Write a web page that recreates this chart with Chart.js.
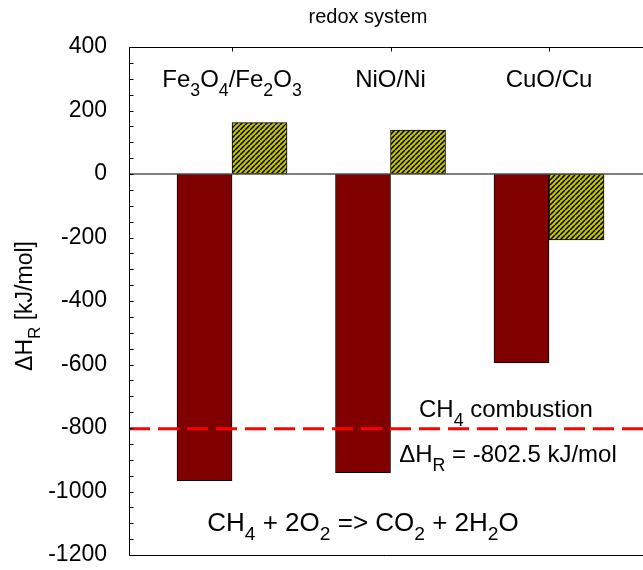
<!DOCTYPE html>
<html>
<head>
<meta charset="utf-8">
<script src="https://cdn.jsdelivr.net/npm/chart.js@4.4.0/dist/chart.umd.min.js"></script>
<style>
  html, body { margin: 0; padding: 0; background: #fff; overflow: hidden; }
  #wrap { width: 643px; height: 570px; }
</style>
</head>
<body>
<div id="wrap"><canvas id="chart" width="643" height="570"></canvas></div>
<script>
// Data. "_X" means X is a subscript.
const categories = ['Fe_3O_4/Fe_2O_3', 'NiO/Ni', 'CuO/Cu'];
const reductionValues = [-966, -941, -595];   // dark red bars
const oxidationValues = [162, 138, -208];     // hatched bars
const yTicks = [400, 200, 0, -200, -400, -600, -800, -1000, -1200];
const combustionValue = -802.5;

const titleText = 'redox system';
const yTitle = 'ΔH_R [kJ/mol]';
const combustionLabel = 'CH_4 combustion';
const combustionValueLabel = 'ΔH_R = -802.5 kJ/mol';
const reactionLabel = 'CH_4 + 2O_2 => CO_2 + 2H_2O';

const FONT = '"Liberation Sans", Arial, sans-serif';

// split "CH_4" into [['CH', false], ['4', true]]
function parseRich(str) {
    const parts = [];
    let buf = '';
    for (let i = 0; i < str.length; i++) {
        if (str[i] === '_' && i + 1 < str.length) {
            if (buf) parts.push([buf, false]);
            buf = '';
            parts.push([str[i + 1], true]);
            i++;
        } else {
            buf += str[i];
        }
    }
    if (buf) parts.push([buf, false]);
    return parts;
}

function drawRich(ctx, str, x, y, size) {
    const parts = parseRich(str);
    const subSize = size * 0.74;
    let total = 0;
    parts.forEach(p => {
        ctx.font = (p[1] ? subSize : size) + 'px ' + FONT;
        total += ctx.measureText(p[0]).width;
    });
    let cx = x - total / 2;
    ctx.textAlign = 'left';
    ctx.textBaseline = 'alphabetic';
    parts.forEach(p => {
        ctx.font = (p[1] ? subSize : size) + 'px ' + FONT;
        ctx.fillText(p[0], cx, p[1] ? y + size * 0.36 : y);
        cx += ctx.measureText(p[0]).width;
    });
}

function makeHatch() {
    const p = 5;
    const c = document.createElement('canvas');
    c.width = p; c.height = p;
    const g = c.getContext('2d');
    g.fillStyle = '#c4c400';
    g.fillRect(0, 0, p, p);
    g.strokeStyle = '#000';
    g.lineWidth = 1.5;
    g.beginPath();
    for (let k = -1; k <= 1; k++) {
        g.moveTo(k * p, p);
        g.lineTo(k * p + p, 0);
    }
    g.stroke();
    return g.createPattern(c, 'repeat');
}

function line(ctx, x1, y1, x2, y2) {
    ctx.beginPath();
    ctx.moveTo(x1, y1);
    ctx.lineTo(x2, y2);
    ctx.stroke();
}

const decorPlugin = {
    id: 'decor',
    afterDatasetsDraw(chart) {
        const ctx = chart.ctx;
        const a = chart.chartArea;
        const x = chart.scales.x;
        const y = chart.scales.y;
        ctx.save();

        // zero line
        const y0 = y.getPixelForValue(0);
        ctx.strokeStyle = '#555';
        ctx.lineWidth = 1.5;
        line(ctx, a.left, y0, a.right, y0);

        // methane combustion line
        const yc = y.getPixelForValue(combustionValue);
        ctx.strokeStyle = '#ff0000';
        ctx.lineWidth = 3;
        ctx.setLineDash([21, 8]);
        line(ctx, a.left, yc, a.right, yc);
        ctx.setLineDash([]);

        // frame (right side is cut off in the original)
        ctx.strokeStyle = '#000';
        ctx.lineWidth = 1;
        const L = Math.round(a.left) + 0.5;
        const T = Math.round(a.top) + 0.5;
        const B = Math.round(a.bottom) + 0.5;
        line(ctx, L, T, L, B);
        line(ctx, L, T, a.right, T);
        line(ctx, L, B, a.right, B);

        // minor ticks on the left axis
        for (let v = -1200; v <= 400; v += 50) {
            const py = Math.round(y.getPixelForValue(v)) + 0.5;
            line(ctx, L, py, L + 4, py);
        }
        // ticks on the top axis at each redox system
        categories.forEach((c, i) => {
            const px = Math.round(x.getPixelForValue(i + 1)) + 0.5;
            line(ctx, px, T, px, T + 4);
        });

        // texts
        ctx.fillStyle = '#000';
        ctx.textAlign = 'center';
        ctx.font = '20px ' + FONT;
        ctx.fillText(titleText, 368, 23);

        categories.forEach((c, i) => {
            drawRich(ctx, c, x.getPixelForValue(i + 1), 87, 24);
        });

        drawRich(ctx, combustionLabel, 506, 417, 24);
        drawRich(ctx, combustionValueLabel, 508, 462, 24);
        drawRich(ctx, reactionLabel, 363, 531, 26);

        ctx.save();
        ctx.translate(32, (a.top + a.bottom) / 2 + 5);
        ctx.rotate(-Math.PI / 2);
        drawRich(ctx, yTitle, 0, 0, 23);
        ctx.restore();

        ctx.restore();
    }
};

const ctx = document.getElementById('chart').getContext('2d');
const hatch = makeHatch();

new Chart(ctx, {
    type: 'bar',
    data: {
        datasets: [{
            label: 'reduction',
            data: categories.map((c, i) => ({ x: i + 1, y: reductionValues[i] })),
            backgroundColor: '#800000',
            borderColor: '#000',
            borderWidth: 1,
            borderSkipped: false,
            barThickness: 55
        }, {
            label: 'oxidation',
            data: categories.map((c, i) => ({ x: i + 1, y: oxidationValues[i] })),
            backgroundColor: hatch,
            borderColor: '#000',
            borderWidth: 1,
            borderSkipped: false,
            barThickness: 55
        }]
    },
    options: {
        responsive: false,
        animation: false,
        layout: { padding: { top: 47, bottom: 15, left: 0, right: 0 } },
        plugins: {
            legend: { display: false },
            tooltip: { enabled: false }
        },
        scales: {
            x: {
                type: 'linear',
                min: 0.35,
                max: 3.593,
                offset: false,
                display: false
            },
            y: {
                min: -1200,
                max: 400,
                afterBuildTicks: s => { s.ticks = yTicks.map(v => ({ value: v })); },
                afterFit: s => {
                    s.width = 129;
                    s.paddingTop = 0;
                    s.paddingBottom = 0;
                },
                grid: { display: false },
                border: { display: false },
                ticks: {
                    color: '#000',
                    padding: 14,
                    font: { family: FONT, size: 23 },
                    callback: v => String(v)
                }
            }
        }
    },
    plugins: [decorPlugin]
});
</script>
</body>
</html>
